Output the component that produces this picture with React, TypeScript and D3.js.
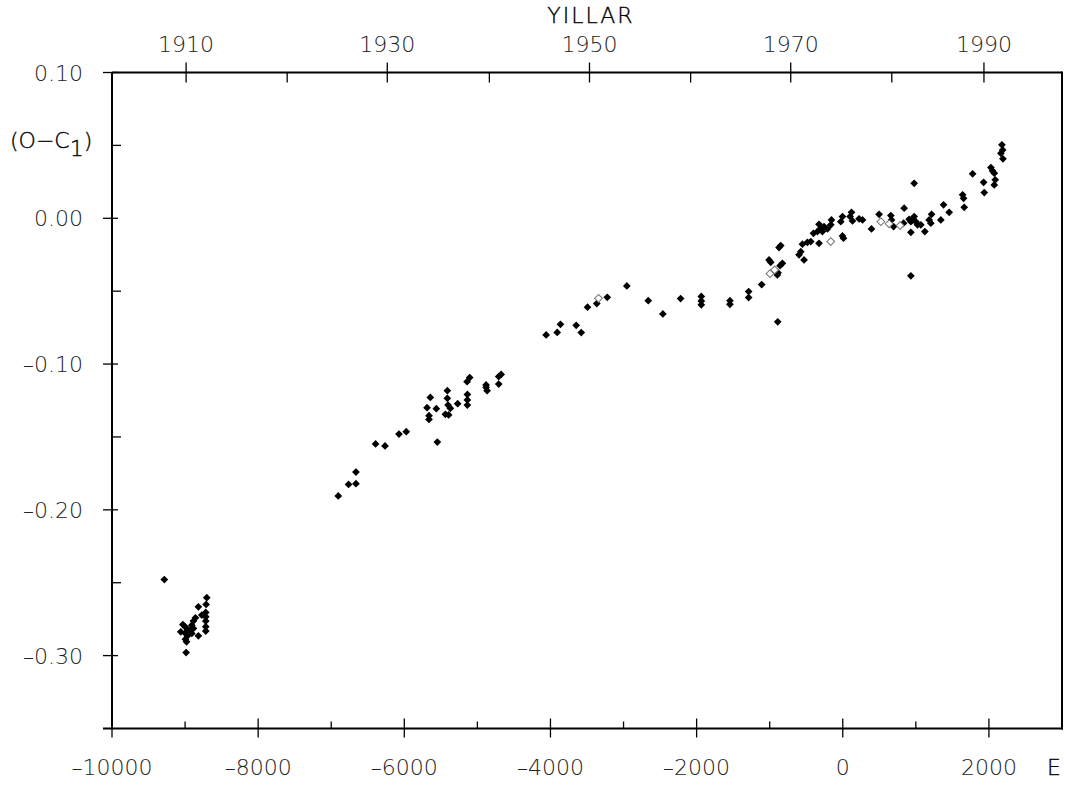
import React from "react";
import * as d3 from "d3";

// Epoch (E) and (O-C1) values
const cluster1910: [number, number][] = [
  [-9284, -0.2478], [-8703, -0.2603], [-8712, -0.2649], [-8818, -0.2665],
  [-8717, -0.2704], [-8717, -0.2734], [-8717, -0.2763], [-8717, -0.2802], [-8717, -0.2832],
  [-8771, -0.2722], [-8858, -0.2741], [-8886, -0.2763], [-8908, -0.2791], [-8886, -0.2814],
  [-8818, -0.2864], [-9030, -0.2787], [-8995, -0.2804], [-8967, -0.2825], [-8995, -0.2848],
  [-8967, -0.2864], [-8995, -0.2887], [-8980, -0.2905], [-9059, -0.2837], [-8986, -0.2979],
  [-8932, -0.2825], [-8908, -0.2848],
];

const points1930s: [number, number][] = [
  [-6904, -0.1905], [-6763, -0.1826], [-6662, -0.1821], [-6662, -0.1741],
  [-6393, -0.1548], [-6264, -0.1562], [-6073, -0.148], [-5973, -0.1464],
  [-5548, -0.1535], [-5644, -0.1229], [-5689, -0.1299], [-5662, -0.1354], [-5662, -0.138],
  [-5562, -0.1306], [-5411, -0.1183], [-5411, -0.1235], [-5401, -0.1281], [-5438, -0.1345],
  [-5393, -0.1349], [-5370, -0.1304], [-5270, -0.1272], [-5137, -0.1208], [-5137, -0.1246],
  [-5137, -0.1281], [-5141, -0.1121], [-5105, -0.1093], [-4881, -0.1143], [-4881, -0.116],
  [-4867, -0.1183], [-4708, -0.1137], [-4708, -0.1086], [-4675, -0.1071],
];

const points1950s: [number, number][] = [
  [-4059, -0.08], [-3908, -0.0783], [-3863, -0.0727], [-3648, -0.0734], [-3579, -0.0784],
  [-3493, -0.061], [-3366, -0.0585], [-3223, -0.0542], [-2955, -0.0464], [-2662, -0.0565],
  [-2462, -0.0656], [-2219, -0.0551], [-1936, -0.0536], [-1936, -0.0567], [-1936, -0.0594],
  [-1544, -0.0565], [-1544, -0.059], [-1288, -0.0503], [-1288, -0.0544], [-1110, -0.0455],
  [-890, -0.071],
];

const pointsRecent: [number, number][] = [
  [-1009, -0.0286], [-986, -0.0302], [-849, -0.0187], [-872, -0.0201], [-826, -0.0309],
  [-858, -0.0325], [-895, -0.0389], [-886, -0.0373], [-598, -0.0251], [-575, -0.0229],
  [-530, -0.0286], [-552, -0.0178], [-484, -0.0165], [-438, -0.016], [-401, -0.0103],
  [-325, -0.0172], [-347, -0.0091], [-325, -0.0041], [-311, -0.0073], [-279, -0.0091],
  [-256, -0.0057], [-210, -0.0073], [-164, -0.0045], [-155, -0.0011], [-27, -0.0023],
  [-4, 0.0012], [-4, -0.0121], [10, -0.0137], [100, 0.0012], [119, 0.0041], [133, -0.0018],
  [223, -0.0004], [270, -0.0011], [393, -0.0073], [497, 0.0027], [658, 0.0019], [667, -0.0011],
  [695, -0.0057], [832, -0.0034], [840, 0.0069], [908, -0.0007], [932, -0.0023], [955, -0.0011],
  [977, 0.0012], [1000, -0.0023], [1023, -0.0045], [1068, -0.0045], [932, -0.0096],
  [932, -0.0395], [977, 0.024], [1123, -0.0091], [1182, -0.0011], [1205, -0.0034],
  [1215, 0.0027], [1342, -0.0011], [1379, 0.0092], [1456, 0.0041], [1640, 0.0161],
  [1653, 0.0137], [1662, 0.0075], [1777, 0.0305], [1927, 0.0247], [1936, 0.0176],
  [2027, 0.0348], [2050, 0.0325], [2073, 0.0309], [2086, 0.0264], [2073, 0.0229],
  [2164, 0.0446], [2178, 0.0504], [2188, 0.0469], [2192, 0.0408],
];

const openPoints: [number, number][] = [
  [-3342, -0.0549], [-996, -0.038], [-932, -0.0354], [-164, -0.016],
  [521, -0.0023], [634, -0.0038], [785, -0.005],
];

const xMajorTicks = [-10000, -8000, -6000, -4000, -2000, 0, 2000];
const xMinorTicks = [-9000, -7000, -5000, -3000, -1000, 1000];
const yMajorTicks = [-0.3, -0.2, -0.1, 0.0, 0.1];
const yMinorTicks = [-0.25, -0.15, -0.05, 0.05];
// Top axis: years, placed at the epochs where the reference draws them
const yearLabels = ["1910", "1930", "1950", "1970", "1990"];
const yearEpochs = [-8986, -6233, -3466, -712, 1932];
const minorYearEpochs = [-7603, -4836, -2082, 671];

const W = 1068;
const H = 787;
const FONT = "'DejaVu Sans', sans-serif";
const TXT = "#222";

export default function App() {
  const x = d3.scaleLinear().domain([-10000, 3000]).range([112, 1062]);
  const y = d3.scaleLinear().domain([-0.35, 0.1]).range([728.5, 72.5]);
  const top = y(0.1);
  const bottom = y(-0.35);
  const left = x(-10000);
  const right = x(3000);
  const diamond = d3.symbol().type(d3.symbolSquare).size(30)() as string;
  const fmtX = (v: number) => (v < 0 ? "\u2013" + Math.abs(v) : String(v));
  const fmtY = (v: number) => {
    const s = d3.format(".2f")(Math.abs(v));
    return v < -1e-9 ? "\u2013" + s : s;
  };
  const filled = [...cluster1910, ...points1930s, ...points1950s, ...pointsRecent];

  return (
    <svg
      width={W}
      height={H}
      style={{ position: "absolute", left: 0, top: 0, background: "#fff" }}
      fontFamily={FONT}
      fontWeight={200}
    >
      <rect x={0} y={0} width={W} height={H} fill="#fff" />
      {/* frame */}
      <g stroke="#000" strokeWidth={2} fill="none">
        <line x1={left} y1={top} x2={right} y2={top} />
        <line x1={right} y1={top - 1} x2={right} y2={bottom + 1} />
        <line x1={left - 9} y1={bottom} x2={right + 1} y2={bottom} />
        <line x1={left} y1={top} x2={left} y2={bottom} />
      </g>
      {/* ticks */}
      <g stroke="#000" strokeWidth={1.3}>
        {xMajorTicks.map((t) => (
          <line key={"bx" + t} x1={x(t)} x2={x(t)} y1={bottom - 10} y2={bottom + 9} />
        ))}
        {xMinorTicks.map((t) => (
          <line key={"bm" + t} x1={x(t)} x2={x(t)} y1={bottom - 7} y2={bottom} />
        ))}
        {yearEpochs.map((t) => (
          <line key={"tx" + t} x1={x(t)} x2={x(t)} y1={top - 10} y2={top + 10} />
        ))}
        {minorYearEpochs.map((t) => (
          <line key={"tm" + t} x1={x(t)} x2={x(t)} y1={top} y2={top + 10} />
        ))}
        {yMajorTicks.map((t) => (
          <line key={"ly" + t} x1={left - 9} x2={left + 6} y1={y(t)} y2={y(t)} />
        ))}
        {yMinorTicks.map((t) => (
          <line key={"lm" + t} x1={left} x2={left + 9} y1={y(t)} y2={y(t)} />
        ))}
      </g>
      {/* labels */}
      <g fill={TXT} fontSize={22}>
        {xMajorTicks.map((t) => (
          <text key={"bl" + t} x={x(t)} y={775} textAnchor="middle">
            {fmtX(t)}
          </text>
        ))}
        {yearLabels.map((lab, i) => (
          <text key={"yl" + lab} x={x(yearEpochs[i])} y={52} textAnchor="middle">
            {lab}
          </text>
        ))}
        {yMajorTicks.map((t) => (
          <text key={"yt" + t} x={83} y={y(t) + 8} textAnchor="end">
            {fmtY(t)}
          </text>
        ))}
      </g>
      <g fill="#000" fontSize={22} stroke="#000" strokeWidth={0.35}>
        <text x={1047} y={775}>E</text>
        <text x={591} y={23} textAnchor="middle" letterSpacing={2}>
          YILLAR
        </text>
        <text x={10} y={148}>
          (O−C
          <tspan dy={8}>1</tspan>
          <tspan dy={-8}>)</tspan>
        </text>
      </g>
      {/* points */}
      <g>
        {filled.map((d, i) => (
          <path
            key={"f" + i}
            d={diamond}
            transform={`translate(${x(d[0])},${y(d[1])}) rotate(45)`}
            fill="#000"
          />
        ))}
        {openPoints.map((d, i) => (
          <path
            key={"o" + i}
            d={diamond}
            transform={`translate(${x(d[0])},${y(d[1])}) rotate(45)`}
            fill="#fff"
            stroke="#777"
            strokeWidth={1}
          />
        ))}
      </g>
    </svg>
  );
}
